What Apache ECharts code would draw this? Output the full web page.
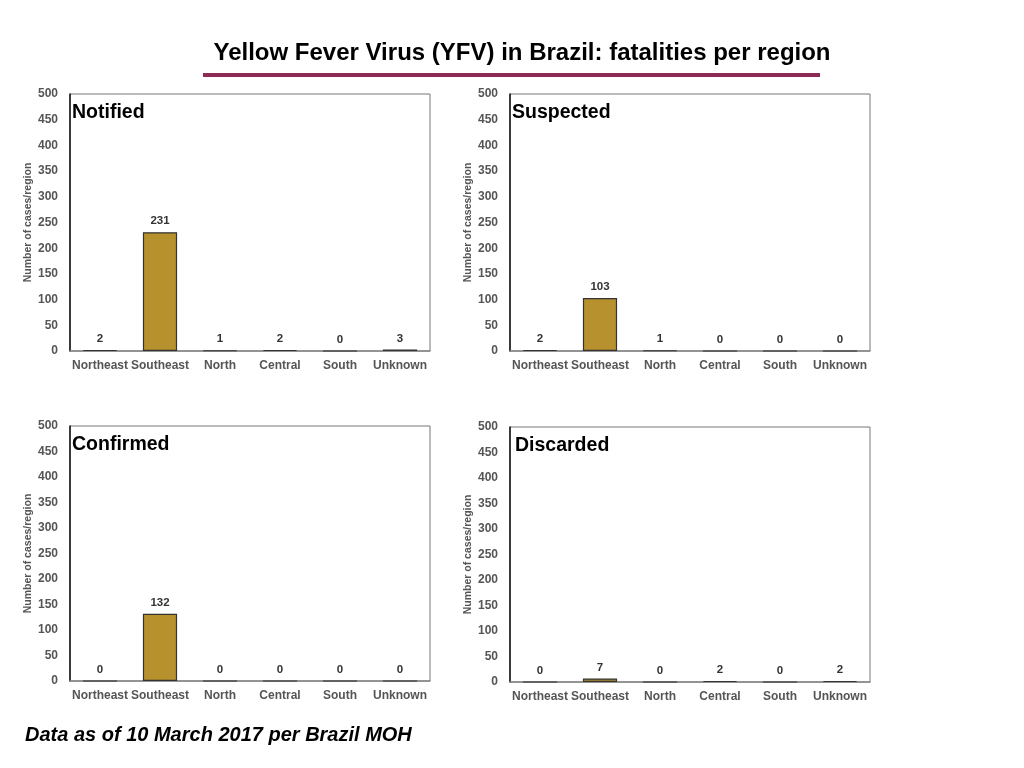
<!DOCTYPE html>
<html><head><meta charset="utf-8">
<script src="https://cdn.jsdelivr.net/npm/echarts@6/dist/echarts.min.js"></script>
<style>html,body{margin:0;padding:0;background:#fff}#c{width:1024px;height:768px}</style>
</head><body><div id="c"></div>
<script>
const categories = ['Northeast','Southeast','North','Central','South','Unknown'];
const notified  = [2, 231, 1, 2, 0, 3];
const suspected = [2, 103, 1, 0, 0, 0];
const confirmed = [0, 132, 0, 0, 0, 0];
const discarded = [0, 7, 0, 2, 0, 2];
const panelNames = ['Notified','Suspected','Confirmed','Discarded'];
const panelData = [notified, suspected, confirmed, discarded];
const yTicks = [0,50,100,150,200,250,300,350,400,450,500];

const grids = [
  {left:70, top:94, width:360, height:257},
  {left:510, top:94, width:360, height:257},
  {left:70, top:426, width:360, height:255},
  {left:510, top:427, width:360, height:255}
];
const FONT = 'Liberation Sans, Arial, Helvetica, sans-serif';
const chart = echarts.init(document.getElementById('c'));
const option = {
  animation:false,
  textStyle:{fontFamily:FONT},
  title: [
    {text:'Yellow Fever Virus (YFV) in Brazil: fatalities per region', left:517, textAlign:'center', top:36,
     textStyle:{fontFamily:FONT, fontSize:24, fontWeight:'bold', color:'#000'}},
    {text:'Data as of 10 March 2017 per Brazil MOH', left:20, top:720,
     textStyle:{fontFamily:FONT, fontSize:20, fontWeight:'bold', fontStyle:'italic', color:'#000'}}
  ].concat(panelNames.map((n,i)=>({text:n, left:grids[i].left-3+(i===3?3:0), top:grids[i].top+4,
     textStyle:{fontFamily:FONT, fontSize:19.5, fontWeight:'bold', color:'#000'}}))),
  graphic:[{type:'rect', shape:{x:203, y:73, width:617, height:4}, style:{fill:'#8E2A57'}}],
  grid: grids.map(g=>Object.assign({show:true, borderColor:'#777', borderWidth:1, backgroundColor:'transparent'}, g)),
  xAxis: grids.map((g,i)=>({type:'category', gridIndex:i, data:categories,
     axisLine:{lineStyle:{color:'#888', width:1.5}}, axisTick:{show:false},
     axisLabel:{interval:0, color:'#555', fontWeight:'bold', fontSize:12, margin:9, fontFamily:FONT}})),
  yAxis: grids.map((g,i)=>({type:'value', gridIndex:i, min:0, max:500, interval:50,
     name:'Number of cases/region', nameLocation:'middle', nameGap:34,
     nameTextStyle:{color:'#555', fontSize:10.5, fontFamily:FONT, fontWeight:'bold'},
     axisLine:{show:true, lineStyle:{color:'#111', width:1.5}}, axisTick:{show:false}, splitLine:{show:false},
     axisLabel:{color:'#555', fontWeight:'bold', fontSize:12, margin:12, fontFamily:FONT,
       formatter:v=>yTicks.includes(v)?String(v):''}})),
  series: panelData.map((d,i)=>({type:'bar', xAxisIndex:i, yAxisIndex:i, data:d, barWidth:'57%',
     itemStyle:{color:'#B8912F', borderColor:'#333', borderWidth:1.2},
     label:{show:true, position:'top', distance:5, color:'#333', fontWeight:'bold', fontSize:11.5, fontFamily:FONT}}))
};
chart.setOption(option);
</script></body></html>
